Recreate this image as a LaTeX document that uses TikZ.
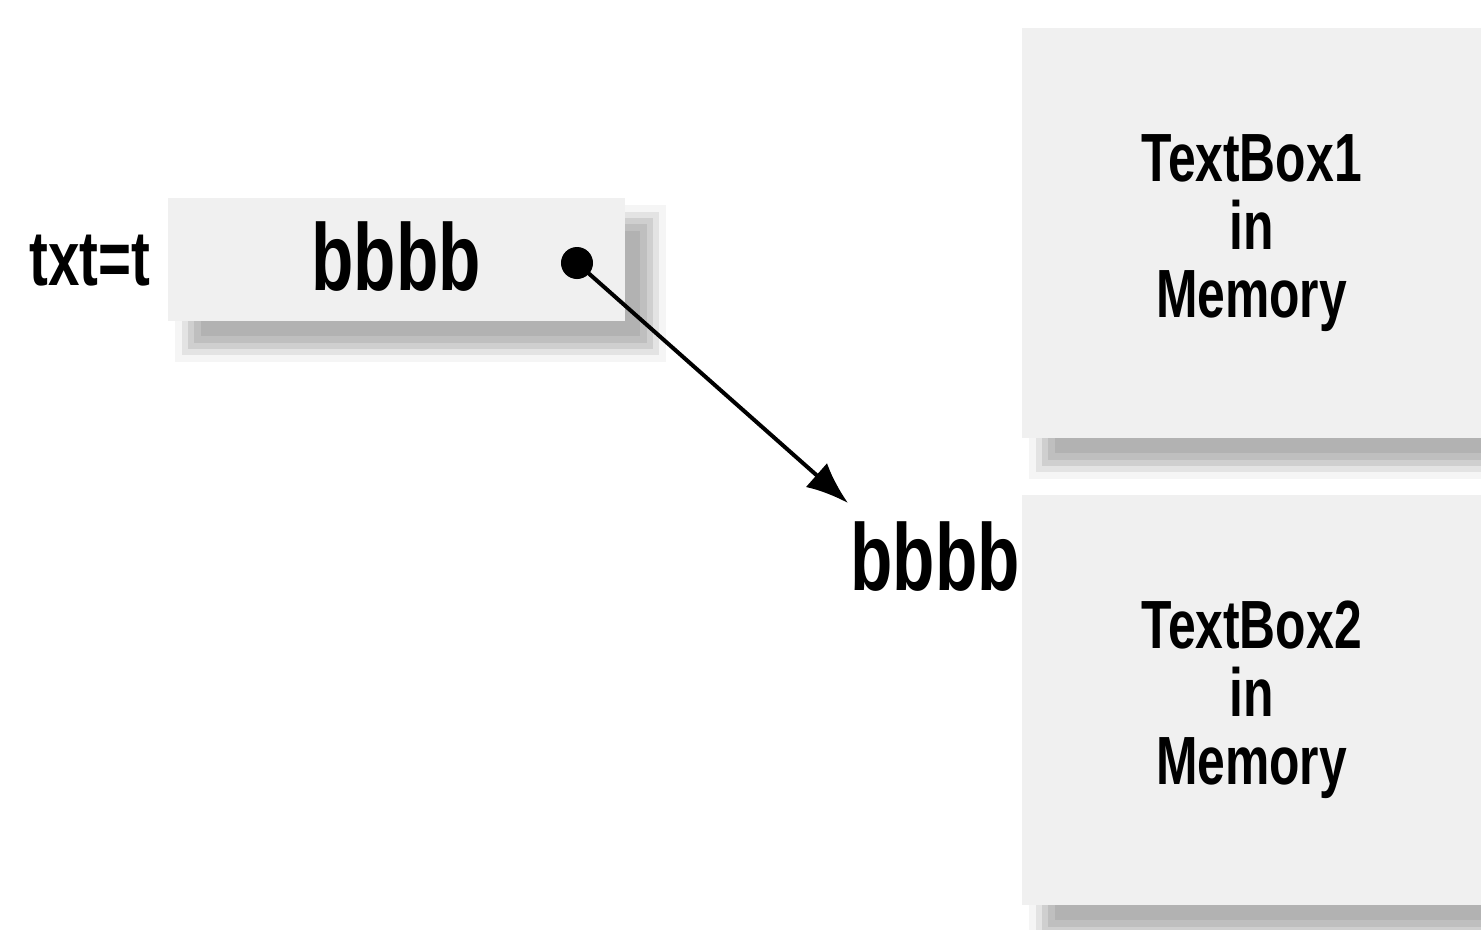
\documentclass[tikz,border=0pt]{standalone}
\usepackage{fontspec}
\setmainfont{Liberation Sans}[FakeStretch=0.73]
\usetikzlibrary{arrows.meta,backgrounds}
\definecolor{boxgray}{RGB}{240,240,240}
% soft shadow under a box, offset down and right
\newcommand{\boxshade}[1]{%
  \foreach \sh/\gr in {16/4,9/11,3/19,-3/25,-10/30}{
    \fill[black!\gr] ([shift={(24-\sh,24-\sh)}]#1.north west) rectangle ([shift={(24+\sh,24+\sh)}]#1.south east);
  }}
\begin{document}
\begin{tikzpicture}[x=0.01cm,y=-0.01cm,
  membox/.style={fill=boxgray,inner sep=0pt,font=\bfseries\fontsize{19.4}{19.4}\selectfont,align=center},
  bigtext/.style={font=\bfseries\fontsize{27}{27}\selectfont,inner sep=0pt}]
\useasboundingbox (0,0) rectangle (1481,929);
\node[fill=boxgray,inner sep=0pt,minimum width=4.57cm,minimum height=1.23cm] (var) at (396.5,259.5) {};
\node[membox,minimum width=4.59cm,minimum height=4.10cm] (mem1) at (1251.5,233) {TextBox1\\in\\Memory};
\node[membox,minimum width=4.59cm,minimum height=4.10cm] (mem2) at (1251.5,700) {TextBox2\\in\\Memory};
\begin{scope}[on background layer]
\boxshade{var}
\boxshade{mem1}
\boxshade{mem2}
\end{scope}
\node[bigtext,anchor=base] (val) at (396,290) {bbbb};
\node[font=\bfseries\fontsize{22}{22}\selectfont,inner sep=0pt,anchor=base] (name) at (90,285) {txt=t};
\node[bigtext,anchor=base] (obj) at (935,590) {bbbb};
\node[circle,fill=black,inner sep=0pt,minimum size=0.32cm] (dot) at (577,263) {};
\coordinate (tip) at (848,503);
\draw[line width=0.04cm,-{Latex[length=0.42cm,width=0.32cm]}] (dot.center) -- (tip);
\end{tikzpicture}
\end{document}
